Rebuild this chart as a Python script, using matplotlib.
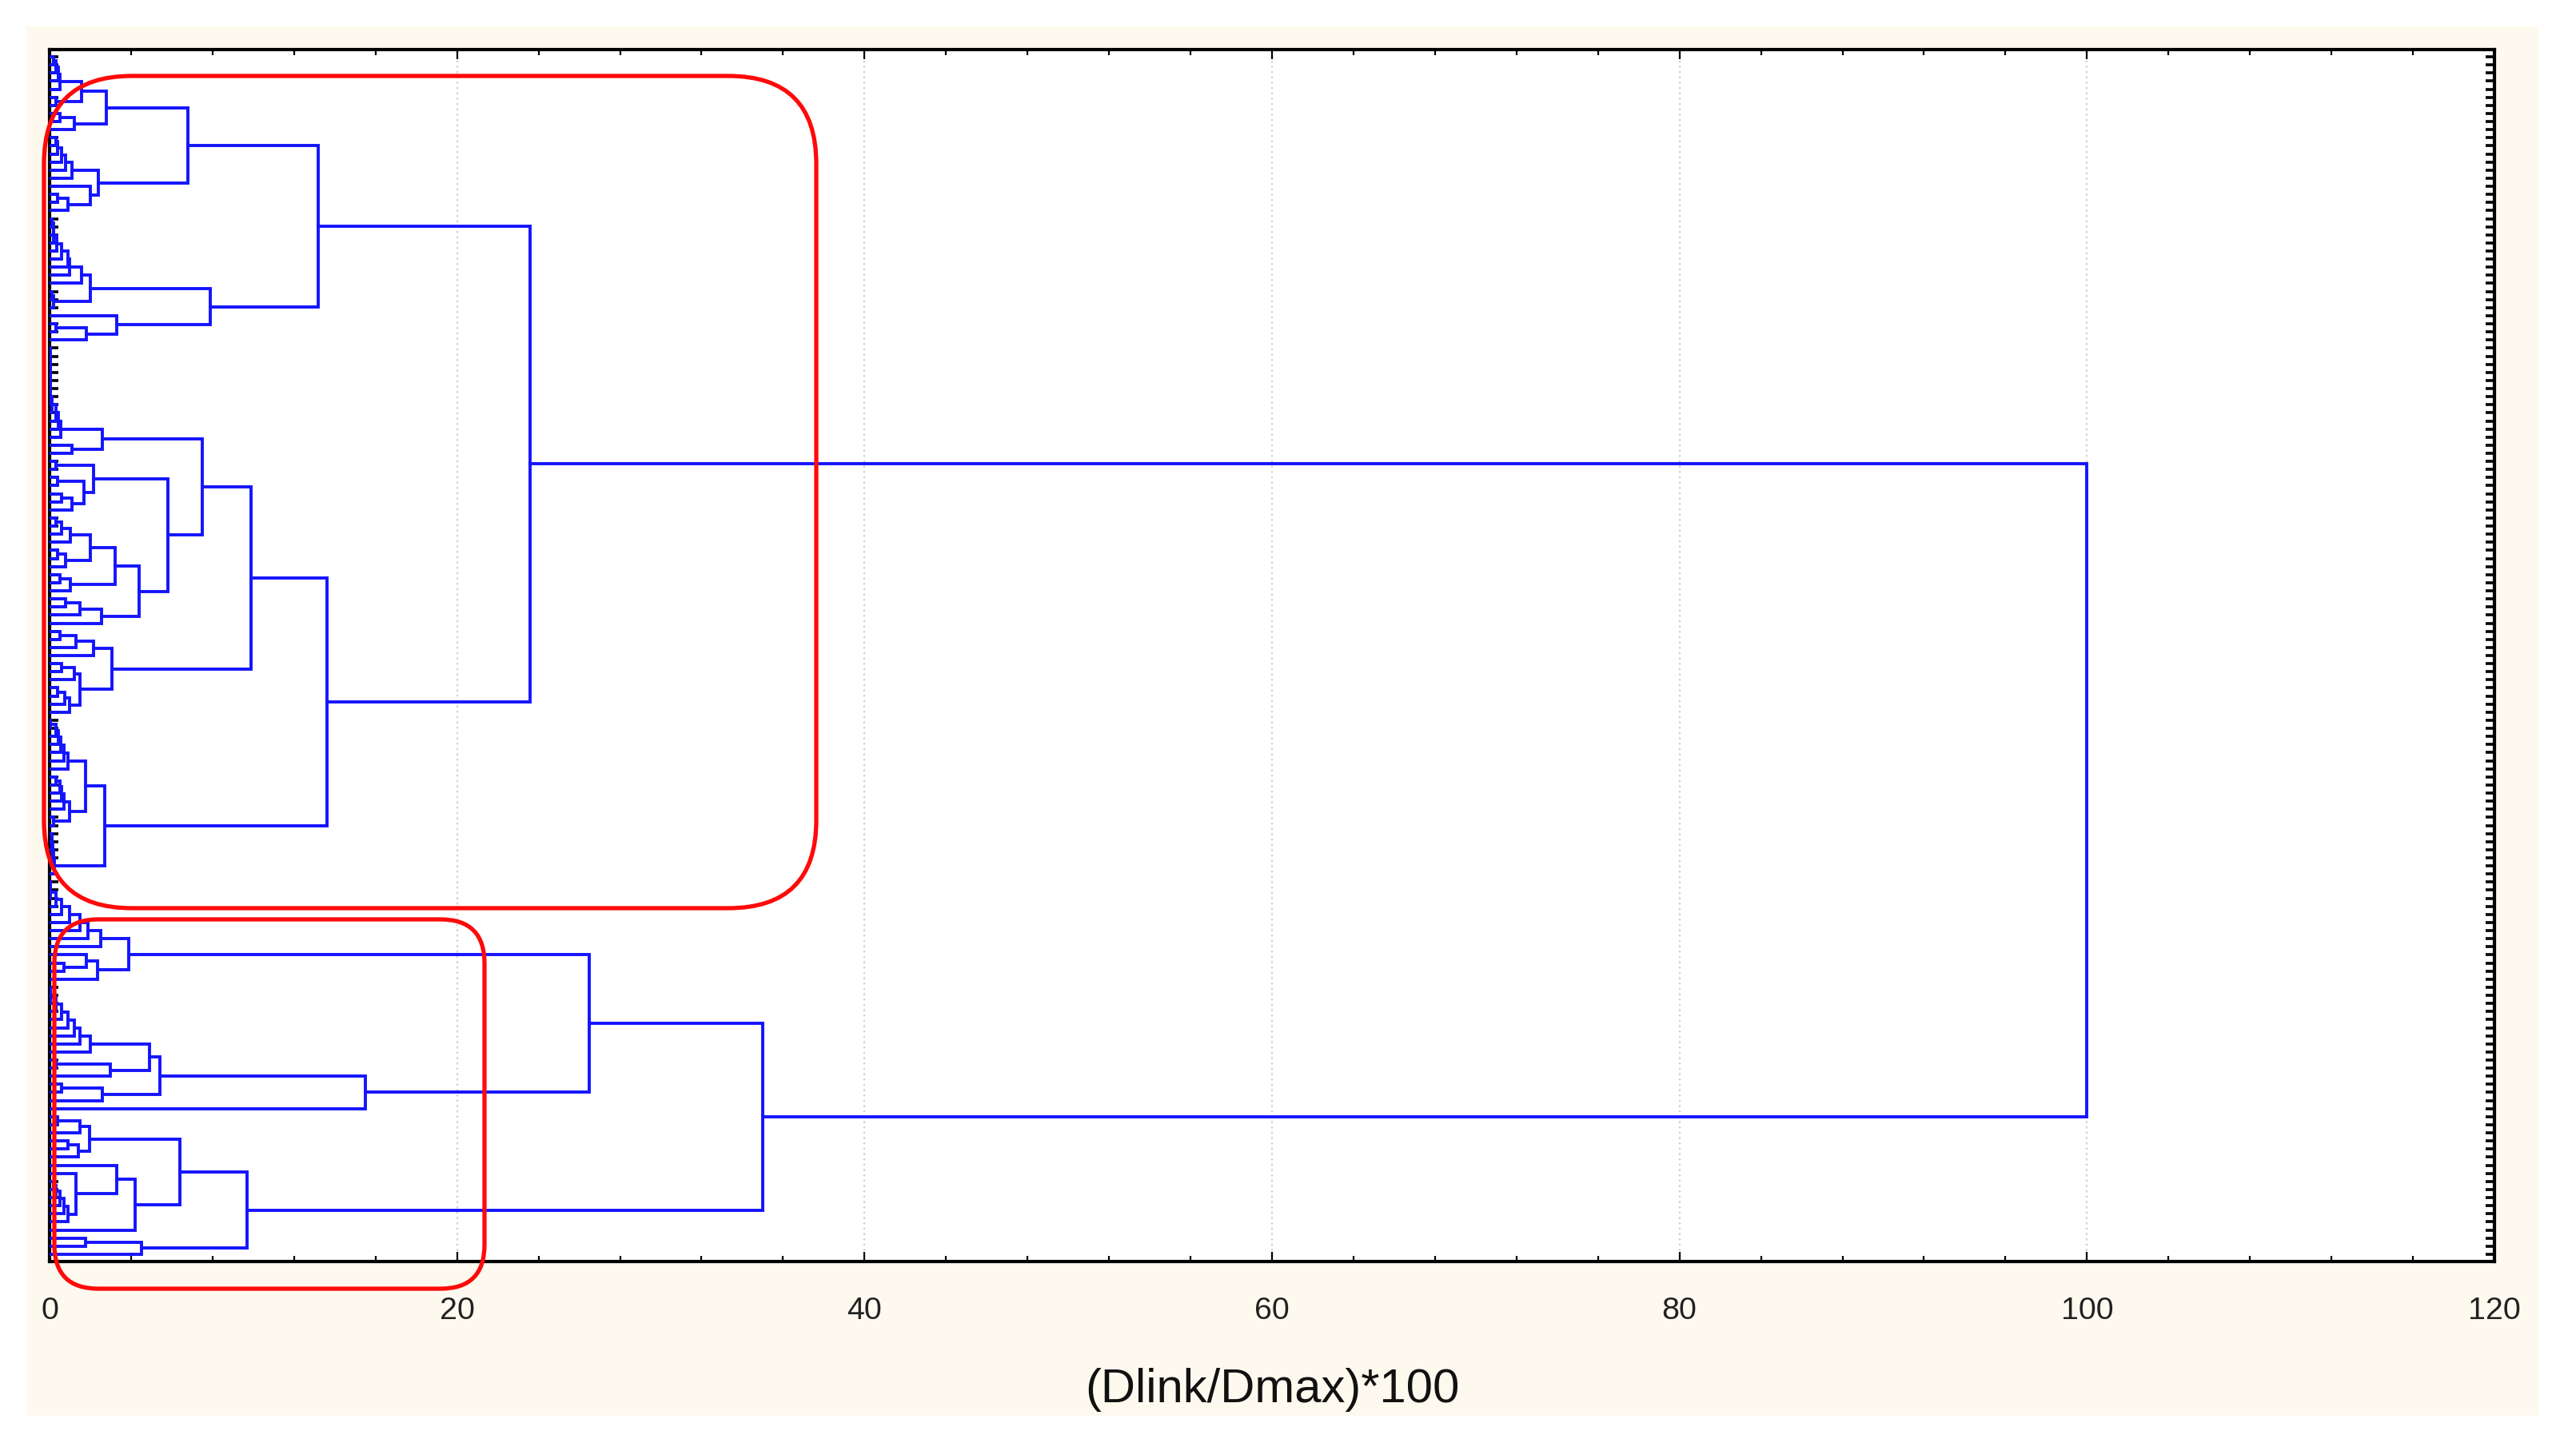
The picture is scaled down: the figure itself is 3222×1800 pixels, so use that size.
import numpy as np
import matplotlib.pyplot as plt
from matplotlib.patches import FancyBboxPatch, Rectangle

# merge heights in (Dlink/Dmax)*100
# tuple = merge (height, child, child); list = leaves joined one after
# another at the listed heights ([] is a single leaf)
upper_a = (6.8,
           (2.8, (1.56, [0.2, 0.3, 0.45, 0.5], [0.3]), [0.5, 1.23]),
           (2.4, [0.3, 0.4, 0.6, 0.8, 1.1], (2.0, [], [0.4, 0.9])))
upper_b = (7.9,
           (2.0, (1.56, [0.1, 0.2, 0.2, 0.35, 0.6, 0.9, 1.0], []), [0.1, 0.2]),
           (3.3, [], (1.8, [0.3], [])))
upper_c = (7.5,
           (2.6, [0.05, 0.05, 0.05, 0.05, 0.05, 0.05, 0.05, 0.1, 0.3, 0.45, 0.55], [1.1]),
           (5.8,
            (2.15, [0.3], (1.7, [0.4], (1.1, [0.6], []))),
            (4.4,
             (3.2, (2.0, (1.03, [0.3, 0.6], []), [0.4, 0.77]), [0.5, 1.03]),
             (2.55, [0.8, 1.5], []))))
upper_d = (3.06,
           (2.15, [0.5, 1.3], []),
           (1.5, [0.6, 1.2], [0.4, 0.75, 0.97]))
upper_e = (2.7,
           (1.75, [0.05, 0.3, 0.45, 0.55, 0.7, 0.9],
                  (1.0, [0.3, 0.5, 0.6, 0.7], [0.2])),
           [0.1, 0.1, 0.15, 0.2, 0.25])
lower_a = (3.9,
           [0.05, 0.05, 0.3, 0.6, 0.97, 1.5, 1.9, 2.5],
           (2.35, (1.8, [], [0.7]), []))
lower_b = (15.5,
           (5.4, (4.9, [0.05, 0.05, 0.3, 0.6, 0.9, 1.2, 1.5, 2.0], (3.0, [0.3], [])),
                 (2.6, [0.6], [])),
           [])
lower_c = (9.7,
           (6.4, (1.95, [0.4, 1.5], (1.4, [0.9], [])),
                 (4.2, (3.3, [], (1.3, [], [0.2, 0.3, 0.5, 0.7, 0.9])), [])),
           (4.5, [1.75], []))

# upper levels of the tree
tree = (100.0,
        (23.6, (13.2, upper_a, upper_b), (13.6, (9.9, upper_c, upper_d), upper_e)),
        (35.0, (26.5, lower_a, lower_b), lower_c))

x_ticks = [0, 20, 40, 60, 80, 100, 120]
x_label = '(Dlink/Dmax)*100'

# walk the tree, leaves placed top to bottom
links = []
counter = [0]


def next_leaf():
    i = counter[0]
    counter[0] += 1
    return i


def layout(node):
    if isinstance(node, list):
        y, h = next_leaf(), 0.0
        for hh in node:
            yl = next_leaf()
            links.append(([h, hh, hh, 0.0], [y, y, yl, yl]))
            y, h = (y + yl) / 2, hh
        return y, h
    h, a, b = node
    ya, ha = layout(a)
    yb, hb = layout(b)
    links.append(([ha, h, h, hb], [ya, ya, yb, yb]))
    return (ya + yb) / 2, h


layout(tree)
n_leaves = counter[0]

plt.rcParams['font.family'] = 'Liberation Sans'

W, H = 3223, 1800
fig = plt.figure(figsize=(W / 200, H / 200), dpi=200)
fig.patch.set_facecolor('white')
fig.patches.append(Rectangle((33 / W, 1 - 1771 / H), (3175 - 33) / W, (1771 - 33) / H,
                             transform=fig.transFigure, facecolor='#fdf9ee',
                             edgecolor='none', zorder=-1))

ax = fig.add_axes([62 / W, 1 - 1578 / H, (3120 - 62) / W, (1578 - 62) / H])
ax.set_facecolor('white')

for xs, ys in links:
    ax.plot(xs, ys, color='#1414ff', linewidth=1.4, solid_joinstyle='miter', zorder=3)

ax.set_xlim(0, 120)
ax.set_ylim(n_leaves - 0.1, -0.9)
ax.set_xticks(x_ticks)
ax.set_xticks(np.arange(0, 121, 4), minor=True)
ax.set_yticks(np.arange(n_leaves))
ax.set_yticklabels([])
ax.tick_params(axis='x', which='major', direction='in', top=True, bottom=True,
               length=4.3, width=0.8, labelsize=14.2, pad=16, labelcolor='#222222')
ax.tick_params(axis='x', which='minor', direction='in', top=True, bottom=True,
               length=2.5, width=0.8)
ax.tick_params(axis='y', direction='in', left=True, right=True, length=4, width=1.3)
ax.grid(axis='x', which='major', color='#cfcfcf', linestyle=(0, (1, 2)), linewidth=0.8)
ax.set_axisbelow(True)
for sp in ax.spines.values():
    sp.set_linewidth(1.5)
    sp.set_color('black')
ax.set_xlabel(x_label, fontsize=21.5, labelpad=19, color='#111111')

# red rounded frames drawn over the chart
for x0, y0, x1, y1, r in [(55, 95, 1021, 1136, 110), (68, 1150, 606, 1612, 55)]:
    fig.patches.append(FancyBboxPatch((x0 / W, 1 - y1 / H), (x1 - x0) / W, (y1 - y0) / H,
                                      boxstyle='round,pad=0,rounding_size=%f' % (r / W),
                                      mutation_aspect=W / H, transform=fig.transFigure,
                                      facecolor='none', edgecolor='#ff0a0a',
                                      linewidth=1.9, zorder=5))

fig.savefig('out.png', dpi=200)
